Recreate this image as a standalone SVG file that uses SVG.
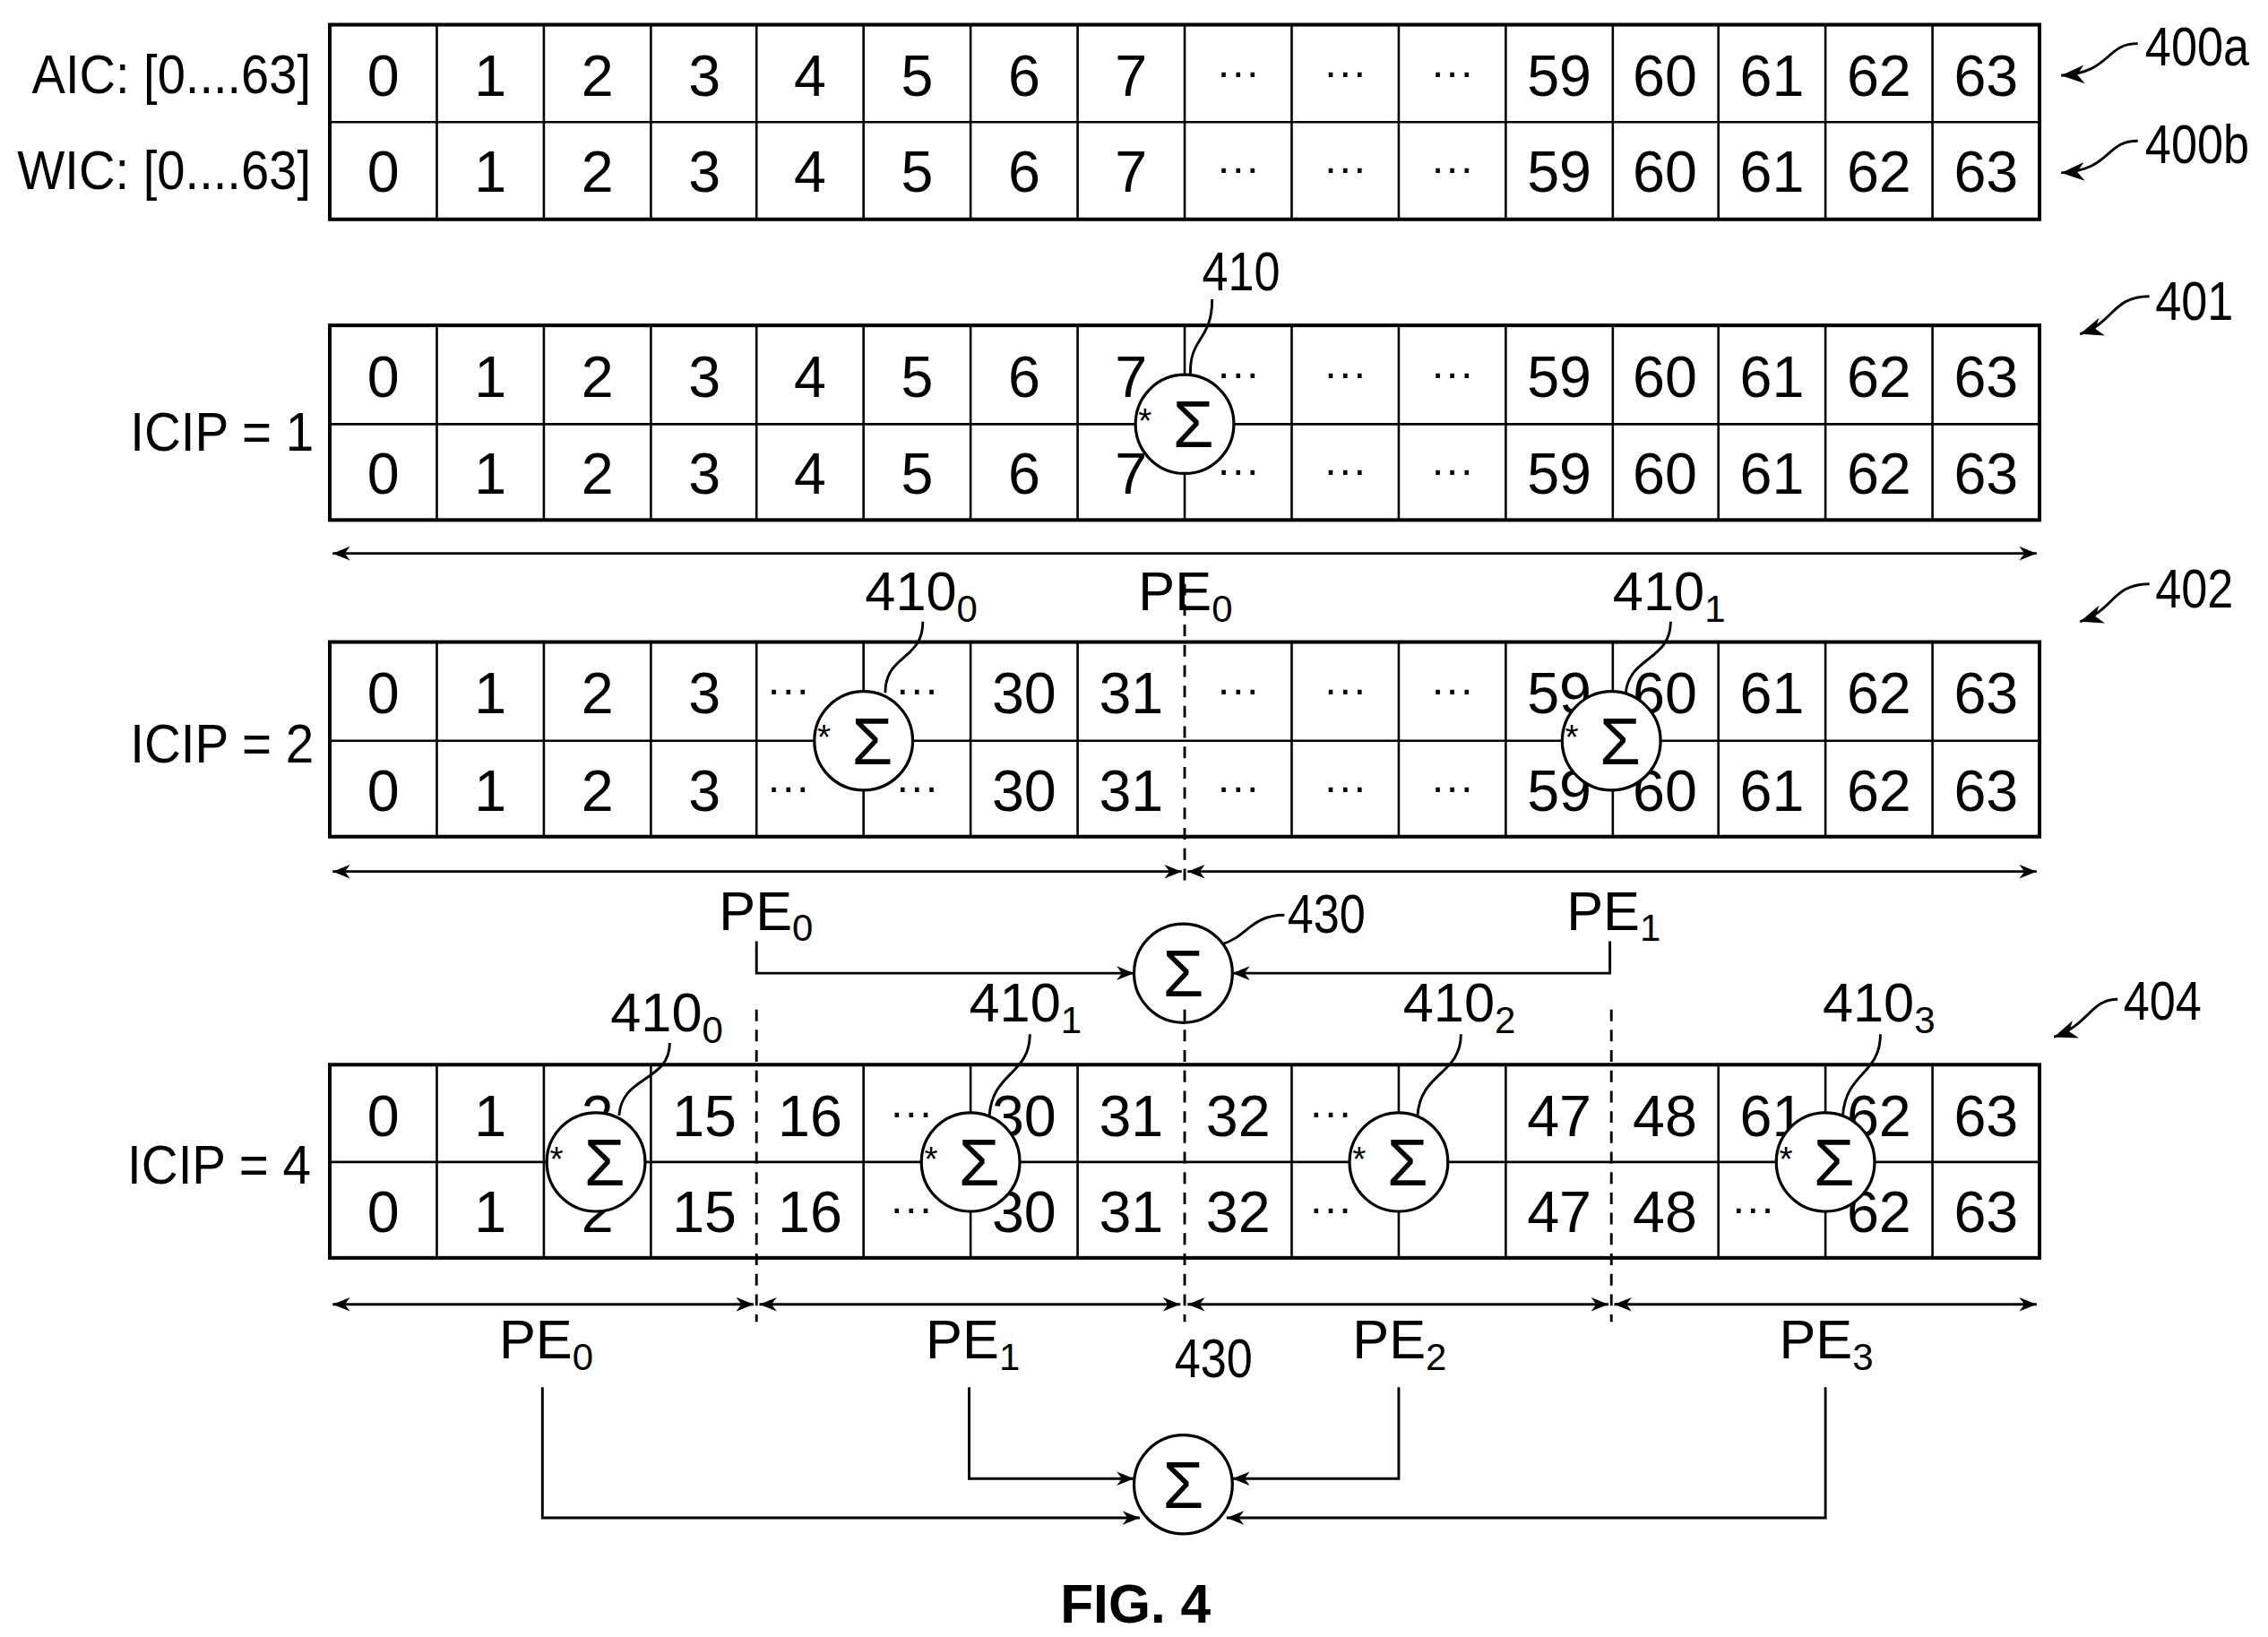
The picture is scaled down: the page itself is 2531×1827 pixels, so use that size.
<svg xmlns="http://www.w3.org/2000/svg" width="2531" height="1827" viewBox="0 0 2531 1827">
<defs>
<style>
text{font-family:"Liberation Sans",Arial,sans-serif;fill:#000}
.c{font-size:40px;text-anchor:middle}
.e{font-size:30px}
.l{font-size:38px}
.s{font-size:46px;text-anchor:middle}
.st{font-size:24px}
.g{fill:none;stroke:#000;stroke-width:2.5}
.t{fill:none;stroke:#000;stroke-width:1.6}
.d{stroke:#000;stroke-width:1.8;stroke-dasharray:8 6;fill:none}
.a{stroke:#000;stroke-width:1.8;fill:none}
.o{fill:#fff;stroke:#000;stroke-width:2}
</style>
<marker id="ah" viewBox="0 0 10 10" refX="10" refY="5" markerWidth="12" markerHeight="12" markerUnits="userSpaceOnUse" orient="auto-start-reverse"><path d="M0,1 L10,5 L0,9 L3,5z" fill="#000"/></marker>
<marker id="big" viewBox="0 0 10 10" refX="10" refY="5" markerWidth="16" markerHeight="16" markerUnits="userSpaceOnUse" orient="auto"><path d="M0,1 L10,5 L0,9 L3,5z" fill="#000"/></marker>
</defs>
<g transform="scale(1.6142 1.6211)">
<g id="table0">
<rect class="g" x="228" y="17" width="1182" height="134"/>
<line class="t" x1="228" y1="84" x2="1410" y2="84"/>
<path class="t" d="M302,17V151M376,17V151M450,17V151M523,17V151M597,17V151M671,17V151M745,17V151M819,17V151M893,17V151M967,17V151M1041,17V151M1115,17V151M1188,17V151M1262,17V151M1336,17V151"/>
<text class="l" x="22" y="64" textLength="193" lengthAdjust="spacingAndGlyphs">AIC: [0....63]</text>
<text class="l" x="12" y="130" textLength="203" lengthAdjust="spacingAndGlyphs">WIC: [0....63]</text>
<g class="c">
<text x="265" y="66">0</text><text x="339" y="66">1</text><text x="413" y="66">2</text><text x="487" y="66">3</text><text x="560" y="66">4</text><text x="634" y="66">5</text><text x="708" y="66">6</text><text x="782" y="66">7</text><text class="e" x="856" y="60">···</text><text class="e" x="930" y="60">···</text><text class="e" x="1004" y="60">···</text><text x="1078" y="66">59</text><text x="1151" y="66">60</text><text x="1225" y="66">61</text><text x="1299" y="66">62</text><text x="1373" y="66">63</text>
<text x="265" y="132">0</text><text x="339" y="132">1</text><text x="413" y="132">2</text><text x="487" y="132">3</text><text x="560" y="132">4</text><text x="634" y="132">5</text><text x="708" y="132">6</text><text x="782" y="132">7</text><text class="e" x="856" y="126">···</text><text class="e" x="930" y="126">···</text><text class="e" x="1004" y="126">···</text><text x="1078" y="132">59</text><text x="1151" y="132">60</text><text x="1225" y="132">61</text><text x="1299" y="132">62</text><text x="1373" y="132">63</text>
</g>
<text class="l" x="1483" y="45" textLength="72" lengthAdjust="spacingAndGlyphs">400a</text>
<path class="a" marker-end="url(#big)" d="M1478,30 C1455,30 1460,50 1425,52"/>
<text class="l" x="1483" y="112" textLength="72" lengthAdjust="spacingAndGlyphs">400b</text>
<path class="a" marker-end="url(#big)" d="M1478,97 C1455,97 1460,117 1425,119"/>
</g>

<g id="icip1">
<rect class="g" x="228" y="224" width="1182" height="134"/>
<line class="t" x1="228" y1="292" x2="1410" y2="292"/>
<path class="t" d="M302,224V358M376,224V358M450,224V358M523,224V358M597,224V358M671,224V358M745,224V358M819,224V358M893,224V358M967,224V358M1041,224V358M1115,224V358M1188,224V358M1262,224V358M1336,224V358"/>
<text class="l" x="90" y="310" textLength="127" lengthAdjust="spacingAndGlyphs">ICIP = 1</text>
<g class="c">
<text x="265" y="273">0</text><text x="339" y="273">1</text><text x="413" y="273">2</text><text x="487" y="273">3</text><text x="560" y="273">4</text><text x="634" y="273">5</text><text x="708" y="273">6</text><text x="782" y="273">7</text><text class="e" x="856" y="267">···</text><text class="e" x="930" y="267">···</text><text class="e" x="1004" y="267">···</text><text x="1078" y="273">59</text><text x="1151" y="273">60</text><text x="1225" y="273">61</text><text x="1299" y="273">62</text><text x="1373" y="273">63</text>
<text x="265" y="340">0</text><text x="339" y="340">1</text><text x="413" y="340">2</text><text x="487" y="340">3</text><text x="560" y="340">4</text><text x="634" y="340">5</text><text x="708" y="340">6</text><text x="782" y="340">7</text><text class="e" x="856" y="334">···</text><text class="e" x="930" y="334">···</text><text class="e" x="1004" y="334">···</text><text x="1078" y="340">59</text><text x="1151" y="340">60</text><text x="1225" y="340">61</text><text x="1299" y="340">62</text><text x="1373" y="340">63</text>
</g>
<text class="l" x="1490" y="220" textLength="54" lengthAdjust="spacingAndGlyphs">401</text>
<path class="a" marker-end="url(#big)" d="M1486,204 C1460,204 1462,222 1438,230"/>
</g>
<g id="sum410">
<circle class="o" cx="819" cy="292" r="34"/>
<text class="st" x="787" y="298">*</text><text class="s" x="825" y="308">Σ</text>
<text class="l" x="831" y="200" textLength="54" lengthAdjust="spacingAndGlyphs">410</text>
<path class="a" d="M838,206 C838,235 822,232 823,258"/>
</g>
<g id="pe1">
<line class="a" x1="230" y1="381" x2="1408" y2="381" marker-start="url(#ah)" marker-end="url(#ah)"/>
<text class="l" x="787" y="420">PE<tspan font-size="26" dy="8">0</tspan></text>
</g>

<g id="icip2">
<rect class="g" x="228" y="442" width="1182" height="134"/>
<line class="t" x1="228" y1="510" x2="1410" y2="510"/>
<path class="t" d="M302,442V576M376,442V576M450,442V576M523,442V576M597,442V576M671,442V576M745,442V576M893,442V576M967,442V576M1041,442V576M1115,442V576M1188,442V576M1262,442V576M1336,442V576"/>
<line class="d" x1="819" y1="402" x2="819" y2="612"/>
<text class="l" x="90" y="525" textLength="127" lengthAdjust="spacingAndGlyphs">ICIP = 2</text>
<g class="c">
<text x="265" y="491">0</text><text x="339" y="491">1</text><text x="413" y="491">2</text><text x="487" y="491">3</text><text class="e" x="545" y="485">···</text><text class="e" x="634" y="485">···</text><text x="708" y="491">30</text><text x="782" y="491">31</text><text class="e" x="856" y="485">···</text><text class="e" x="930" y="485">···</text><text class="e" x="1004" y="485">···</text><text x="1078" y="491">59</text><text x="1151" y="491">60</text><text x="1225" y="491">61</text><text x="1299" y="491">62</text><text x="1373" y="491">63</text>
<text x="265" y="558">0</text><text x="339" y="558">1</text><text x="413" y="558">2</text><text x="487" y="558">3</text><text class="e" x="545" y="552">···</text><text class="e" x="634" y="552">···</text><text x="708" y="558">30</text><text x="782" y="558">31</text><text class="e" x="856" y="552">···</text><text class="e" x="930" y="552">···</text><text class="e" x="1004" y="552">···</text><text x="1078" y="558">59</text><text x="1151" y="558">60</text><text x="1225" y="558">61</text><text x="1299" y="558">62</text><text x="1373" y="558">63</text>
</g>
<text class="l" x="1490" y="418" textLength="54" lengthAdjust="spacingAndGlyphs">402</text>
<path class="a" marker-end="url(#big)" d="M1486,402 C1460,402 1462,420 1438,428"/>
</g>
<g id="sum410_0a">
<circle class="o" cx="597" cy="510" r="34"/>
<text class="st" x="565" y="516">*</text><text class="s" x="603" y="526">Σ</text>
<text class="l" x="598" y="420">410<tspan font-size="26" dy="8">0</tspan></text>
<path class="a" d="M638,428 C638,455 612,450 612,477"/>
</g>
<g id="sum410_1a">
<circle class="o" cx="1114" cy="510" r="34"/>
<text class="st" x="1082" y="516">*</text><text class="s" x="1120" y="526">Σ</text>
<text class="l" x="1115" y="420">410<tspan font-size="26" dy="8">1</tspan></text>
<path class="a" d="M1155,428 C1155,455 1126,452 1124,477"/>
</g>
<g id="pe2">
<line class="a" x1="230" y1="600" x2="817" y2="600" marker-start="url(#ah)" marker-end="url(#ah)"/>
<line class="a" x1="821" y1="600" x2="1408" y2="600" marker-start="url(#ah)" marker-end="url(#ah)"/>
<text class="l" x="497" y="640">PE<tspan font-size="26" dy="8">0</tspan></text>
<text class="l" x="1083" y="640">PE<tspan font-size="26" dy="8">1</tspan></text>
</g>
<g id="sum430a">
<circle class="o" cx="818" cy="670" r="34"/>
<text class="s" x="818" y="686">Σ</text>
<text class="l" x="890" y="642" textLength="54" lengthAdjust="spacingAndGlyphs">430</text>
<path class="a" d="M888,630 C865,630 862,645 845,650"/>
</g>

<g id="icip4">
<rect class="g" x="228" y="733" width="1182" height="133"/>
<line class="t" x1="228" y1="800" x2="1410" y2="800"/>
<path class="t" d="M302,733V866M376,733V866M450,733V866M597,733V866M671,733V866M745,733V866M893,733V866M967,733V866M1041,733V866M1188,733V866M1262,733V866M1336,733V866"/>
<line class="d" x1="523" y1="695" x2="523" y2="910"/>
<line class="d" x1="819" y1="695" x2="819" y2="910"/>
<line class="d" x1="1114" y1="695" x2="1114" y2="910"/>
<text class="l" x="88" y="815" textLength="127" lengthAdjust="spacingAndGlyphs">ICIP = 4</text>
<g class="c">
<text x="265" y="782">0</text><text x="339" y="782">1</text><text x="413" y="782">2</text><text x="487" y="782">15</text><text x="560" y="782">16</text><text class="e" x="630" y="776">···</text><text x="708" y="782">30</text><text x="782" y="782">31</text><text x="856" y="782">32</text><text class="e" x="920" y="776">···</text><text x="1078" y="782">47</text><text x="1151" y="782">48</text><text x="1225" y="782">61</text><text x="1299" y="782">62</text><text x="1373" y="782">63</text>
<text x="265" y="848">0</text><text x="339" y="848">1</text><text x="413" y="848">2</text><text x="487" y="848">15</text><text x="560" y="848">16</text><text class="e" x="630" y="842">···</text><text x="708" y="848">30</text><text x="782" y="848">31</text><text x="856" y="848">32</text><text class="e" x="920" y="842">···</text><text x="1078" y="848">47</text><text x="1151" y="848">48</text><text class="e" x="1212" y="842">···</text><text x="1299" y="848">62</text><text x="1373" y="848">63</text>
</g>
<text class="l" x="1468" y="702" textLength="54" lengthAdjust="spacingAndGlyphs">404</text>
<path class="a" marker-end="url(#big)" d="M1464,688 C1445,688 1445,705 1420,714"/>
</g>
<g id="sum410_0b">
<circle class="o" cx="412" cy="800" r="34"/>
<text class="st" x="380" y="806">*</text><text class="s" x="418" y="816">Σ</text>
<text class="l" x="422" y="710">410<tspan font-size="26" dy="8">0</tspan></text>
<path class="a" d="M463,718 C463,745 430,740 428,768"/>
</g>
<g id="sum410_1b">
<circle class="o" cx="671" cy="800" r="34"/>
<text class="st" x="639" y="806">*</text><text class="s" x="677" y="816">Σ</text>
<text class="l" x="670" y="703">410<tspan font-size="26" dy="8">1</tspan></text>
<path class="a" d="M712,712 C712,740 686,738 684,768"/>
</g>
<g id="sum410_2b">
<circle class="o" cx="967" cy="800" r="34"/>
<text class="st" x="935" y="806">*</text><text class="s" x="973" y="816">Σ</text>
<text class="l" x="970" y="703">410<tspan font-size="26" dy="8">2</tspan></text>
<path class="a" d="M1010,712 C1010,740 982,738 980,768"/>
</g>
<g id="sum410_3b">
<circle class="o" cx="1262" cy="800" r="34"/>
<text class="st" x="1230" y="806">*</text><text class="s" x="1268" y="816">Σ</text>
<text class="l" x="1260" y="703">410<tspan font-size="26" dy="8">3</tspan></text>
<path class="a" d="M1300,712 C1300,740 1276,738 1274,768"/>
</g>
<g id="pe4">
<line class="a" x1="230" y1="898" x2="521" y2="898" marker-start="url(#ah)" marker-end="url(#ah)"/>
<line class="a" x1="525" y1="898" x2="816" y2="898" marker-start="url(#ah)" marker-end="url(#ah)"/>
<line class="a" x1="821" y1="898" x2="1112" y2="898" marker-start="url(#ah)" marker-end="url(#ah)"/>
<line class="a" x1="1116" y1="898" x2="1408" y2="898" marker-start="url(#ah)" marker-end="url(#ah)"/>
<text class="l" x="345" y="935">PE<tspan font-size="26" dy="8">0</tspan></text>
<text class="l" x="640" y="935">PE<tspan font-size="26" dy="8">1</tspan></text>
<text class="l" x="935" y="935">PE<tspan font-size="26" dy="8">2</tspan></text>
<text class="l" x="1230" y="935">PE<tspan font-size="26" dy="8">3</tspan></text>
</g>
<g id="sum430b">
<circle class="o" cx="818" cy="1022" r="34"/>
<text class="s" x="818" y="1038">Σ</text>
<text class="l" x="812" y="948" textLength="54" lengthAdjust="spacingAndGlyphs">430</text>
</g>
<g id="connectors">
<path class="a" marker-end="url(#ah)" d="M523,648V670H784"/>
<path class="a" marker-end="url(#ah)" d="M1113,648V670H852"/>
<path class="a" marker-end="url(#ah)" d="M670,955V1018H784"/>
<path class="a" marker-end="url(#ah)" d="M967,955V1018H852"/>
<path class="a" marker-end="url(#ah)" d="M375,955V1045H788"/>
<path class="a" marker-end="url(#ah)" d="M1262,955V1045H848"/>
</g>
<text x="785" y="1117" font-size="38" font-weight="bold" text-anchor="middle" textLength="104" lengthAdjust="spacingAndGlyphs">FIG. 4</text>
</g>
</svg>
